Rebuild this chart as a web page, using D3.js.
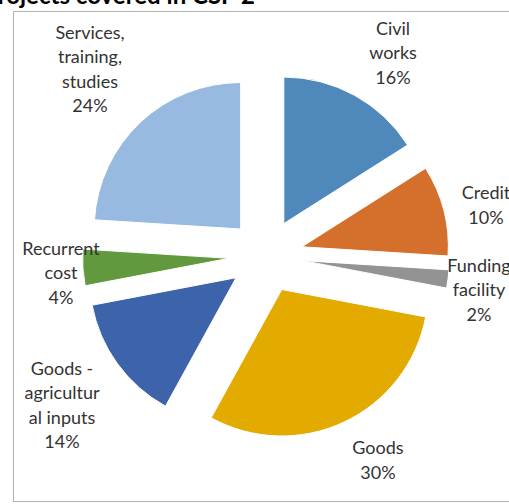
<!DOCTYPE html>
<html>
<head>
<meta charset="utf-8">
<script src="https://cdn.jsdelivr.net/npm/d3@7"></script>
<style>
  body { margin: 0; background: #fff; }
  svg { display: block; }
  text { font-family: Lato, "Open Sans", sans-serif; }
</style>
</head>
<body>
<div id="chart"></div>
<script>
var categories = ["Civil works", "Credit", "Funding facility", "Goods",
  "Goods - agricultural inputs", "Recurrent cost", "Services, training, studies"];
var shares = [16, 10, 2, 30, 14, 4, 24];
var colors = ["#4f88bb", "#d4702b", "#939393", "#e3ab00", "#3d63aa", "#62993e", "#98b9e0"];
// label lines as wrapped in the original
var labelLines = [
  ["Civil", "works", "16%"],
  ["Credit", "10%"],
  ["Funding", "facility", "2%"],
  ["Goods", "30%"],
  ["Goods -", "agricultur", "al inputs", "14%"],
  ["Recurrent", "cost", "4%"],
  ["Services,", "training,", "studies", "24%"]
];
// label anchor (center of text block)
var labelPos = [
  [393, 53], [486, 205], [479, 290], [378, 460], [62, 405], [61, 273], [90, 69]
];

var width = 509, height = 504;
var cx = 266, cy = 256, radius = 146.5, explode = 37;

var svg = d3.select("#chart").append("svg")
  .attr("width", width)
  .attr("height", height);

// frame
svg.append("rect")
  .attr("x", 13.5).attr("y", 11.5)
  .attr("width", 520).attr("height", 490)
  .attr("fill", "none")
  .attr("stroke", "#b3b3b3")
  .attr("stroke-width", 1);

// title, cut by the top edge as in the source
svg.append("text")
  .attr("x", 255).attr("y", 3.5)
  .attr("text-anchor", "end")
  .attr("font-size", 24)
  .attr("font-weight", "bold")
  .attr("fill", "#000")
  .text("Projects covered in CSP 2");

var pie = d3.pie().sort(null).value(function (d) { return d; });
var arcs = pie(shares);
var arc = d3.arc().innerRadius(0).outerRadius(radius);

var g = svg.append("g").attr("transform", "translate(" + cx + "," + cy + ")");

g.selectAll("path")
  .data(arcs)
  .enter()
  .append("path")
  .attr("d", arc)
  .attr("fill", function (d, i) { return colors[i]; })
  .attr("stroke", "#fff")
  .attr("stroke-width", 1)
  .attr("transform", function (d) {
    var mid = (d.startAngle + d.endAngle) / 2;
    return "translate(" + (Math.sin(mid) * explode) + "," + (-Math.cos(mid) * explode) + ")";
  });

var lineH = 24.5;
labelLines.forEach(function (lines, i) {
  var t = svg.append("text")
    .attr("text-anchor", "middle")
    .attr("font-size", 18)
    .attr("fill", "#333");
  var y0 = labelPos[i][1] - (lines.length - 1) * lineH / 2;
  lines.forEach(function (s, j) {
    t.append("tspan")
      .attr("x", labelPos[i][0])
      .attr("y", y0 + j * lineH)
      .attr("dy", "0.35em")
      .text(s);
  });
});
</script>
</body>
</html>
